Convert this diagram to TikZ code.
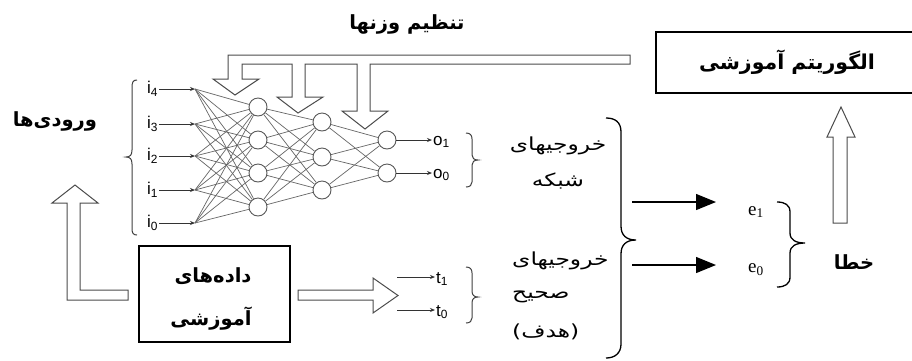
\documentclass[tikz,border=0pt]{standalone}
\usepackage{fontspec}
\setmainfont{Liberation Sans}
\newfontfamily\fa[Script=Arabic]{DejaVu Sans}
\newfontfamily\faw[Script=Arabic, FakeStretch=1.3]{DejaVu Sans}
\newfontfamily\serifE{Liberation Serif}
\TeXXeTstate=1
\usetikzlibrary{arrows.meta}
\newcommand\pers[1]{\fa\beginR #1\endR}
\newcommand\persw[1]{\faw\beginR #1\endR}
\tikzset{
  box/.style={draw=black, line width=1.3pt, fill=white, inner sep=0pt},
  neuron/.style={circle, draw=black!65, line width=0.9pt, fill=white, minimum size=18pt, inner sep=0pt},
  syn/.style={draw=black!60, line width=0.7pt},
  hollow/.style={draw=black!70, line width=1pt, fill=white, line join=miter},
  brc/.style={draw=black, line width=1.3pt},
  lab/.style={font=\fontsize{17}{19}\selectfont, inner sep=1pt},
  inarr/.style={draw=black!80, line width=0.9pt, -{Stealth[length=5pt,width=4pt]}},
  bigarr/.style={draw=black, line width=1.3pt, -{Triangle[length=20pt,width=16pt]}},
  fatxt/.style={font=\fontsize{19.5}{22}\selectfont\bfseries, inner sep=0pt},
  farg/.style={font=\fontsize{18}{22}\selectfont, inner sep=0pt},
  elab/.style={font=\serifE\fontsize{19}{21}\selectfont, inner sep=1pt}
}
\begin{document}
\begin{tikzpicture}[x=1pt,y=-1pt]
\useasboundingbox (0,0) rectangle (912,360);
\clip (0,0) rectangle (912,360);
\fill[white] (0,0) rectangle (912,360);

% ---------- weight adjusting hollow arrows ----------
\draw[hollow] (630,55) -- (228,55) -- (228,79) -- (213,79) -- (235,95) -- (259,79) -- (242,79) -- (242,64)
  -- (292,64) -- (292,97) -- (277,97) -- (298,113) -- (323,97) -- (305,97) -- (305,64)
  -- (357,64) -- (357,111) -- (342,111) -- (365,129) -- (388,111) -- (370,111) -- (370,64)
  -- (630,64) -- cycle;

% ---------- network ----------
\foreach \n/\y in {4/89,3/124,2/156,1/190,0/223}{
  \node[lab, anchor=west] (i\n) at (146,\y) {i\textsubscript{\n}};
  \coordinate (f\n) at (195,\y);
}
\node[neuron] (ha) at (258,107) {};
\node[neuron] (hb) at (258,140) {};
\node[neuron] (hc) at (258,173) {};
\node[neuron] (hd) at (258,207) {};
\node[neuron] (ga) at (322,122) {};
\node[neuron] (gb) at (322,157) {};
\node[neuron] (gc) at (322,190) {};
\node[neuron] (oa) at (387,140) {};
\node[neuron] (ob) at (387,173) {};
\foreach \a in {4,3,2,1,0}{\foreach \b in {ha,hb,hc,hd}{\draw[syn] (f\a) -- (\b);}}
\foreach \a in {ha,hb,hc,hd}{\foreach \b in {ga,gb,gc}{\draw[syn] (\a) -- (\b);}}
\foreach \a in {ga,gb,gc}{\foreach \b in {oa,ob}{\draw[syn] (\a) -- (\b);}}
\foreach \n in {4,3,2,1,0}{\draw[inarr] (i\n.east) -- (f\n);}
\node[lab, anchor=west] (o1) at (432,142) {o\textsubscript{1}};
\node[lab, anchor=west] (o0) at (432,175) {o\textsubscript{0}};
\draw[inarr] (oa) -- (o1.west |- oa);
\draw[inarr] (ob) -- (o0.west |- ob);

% input brace
\draw[brc, line width=1pt, draw=black!75] (137,80) .. controls (133,80) and (132,82) .. (132,88) -- (132,150)
  .. controls (132,155) and (130,157) .. (126,157) .. controls (130,157) and (132,159) .. (132,164)
  -- (132,228) .. controls (132,233) and (133,235) .. (137,235);
% output brace
\draw[brc, line width=1pt, draw=black!75] (466,133) .. controls (470,133) and (472,135) .. (472,139) -- (472,155)
  .. controls (472,158) and (474,160) .. (478,160) .. controls (474,160) and (472,162) .. (472,165)
  -- (472,182) .. controls (472,185) and (470,187) .. (466,187);

% labels
\node[fatxt] (inlab) at (55,121) {\pers{ورودی‌ها}};
\node[fatxt] (wlab) at (407,24) {\pers{تنظیم وزنها}};

% ---------- training data ----------
\node[box, minimum width=151pt, minimum height=96pt] (data) at (214.5,294) {};
\node[fatxt] (d1) at (213,276) {\pers{داده‌های}};
\node[fatxt] (d2) at (211,319) {\pers{آموزشی}};
\draw[hollow] (128,290) -- (80,290) -- (80,203) -- (98,203) -- (75,185) -- (52,203) -- (67,203) -- (67,300) -- (128,300) -- cycle;
\draw[hollow] (298,290) -- (373,290) -- (373,278) -- (398,295.5) -- (373,313) -- (373,300) -- (298,300) -- cycle;
\node[lab, anchor=west] (t1) at (435,279) {t\textsubscript{1}};
\node[lab, anchor=west] (t0) at (435,312) {t\textsubscript{0}};
\coordinate (ts1) at (397,277);
\coordinate (ts0) at (397,310);
\draw[inarr] (ts1) -- (t1.west |- ts1);
\draw[inarr] (ts0) -- (t0.west |- ts0);
\draw[brc, line width=1pt, draw=black!75] (466,267) .. controls (470,267) and (472,269) .. (472,273) -- (472,291)
  .. controls (472,295) and (474,297) .. (478,297) .. controls (474,297) and (472,299) .. (472,303)
  -- (472,318) .. controls (472,321) and (470,323) .. (466,323);

% ---------- outputs text ----------
\node[farg] (no1) at (558,146) {\persw{خروجیهای}};
\node[farg] (no2) at (558,181) {\persw{شبکه}};
\node[farg, anchor=west] (ta1) at (512,261) {\persw{خروجیهای}};
\node[farg, anchor=west] (ta2) at (512,297) {\persw{صحیح}};
\node[farg, anchor=west] (ta3) at (512,332) {\persw{(هدف)}};

% big brace
\draw[brc] (606,118) .. controls (615,118) and (621,122) .. (621,132) -- (621,226)
  .. controls (621,235) and (626,240) .. (636,240) .. controls (626,240) and (621,245) .. (621,254)
  -- (621,344) .. controls (621,353) and (615,358) .. (606,358);

% ---------- errors ----------
\coordinate (s1) at (632,202);
\coordinate (s0) at (632,265);
\node[elab] (e1) at (756,212) {e\textsubscript{1}};
\node[elab] (e0) at (756,270) {e\textsubscript{0}};
\coordinate (a1) at (716,202);
\coordinate (a0) at (716,265);
\draw[bigarr] (s1) -- (a1);
\draw[bigarr] (s0) -- (a0);
\draw[brc] (777,202) .. controls (785,202) and (790,205) .. (790,212) -- (790,233)
  .. controls (790,240) and (796,243) .. (805,243) .. controls (796,243) and (790,246) .. (790,253)
  -- (790,277) .. controls (790,284) and (785,287) .. (777,287);
\node[fatxt] (err) at (854,262) {\pers{خطا}};

% ---------- learning algorithm ----------
\node[box, minimum width=262pt, minimum height=61pt] (alg) at (787,62.5) {\fontsize{20.5}{24}\selectfont\bfseries\pers{الگوریتم آموزشی}};
\draw[hollow] (833,223) -- (833,137) -- (827,137) -- (841,107) -- (855,137) -- (847,137) -- (847,223) -- cycle;
\end{tikzpicture}
\end{document}
